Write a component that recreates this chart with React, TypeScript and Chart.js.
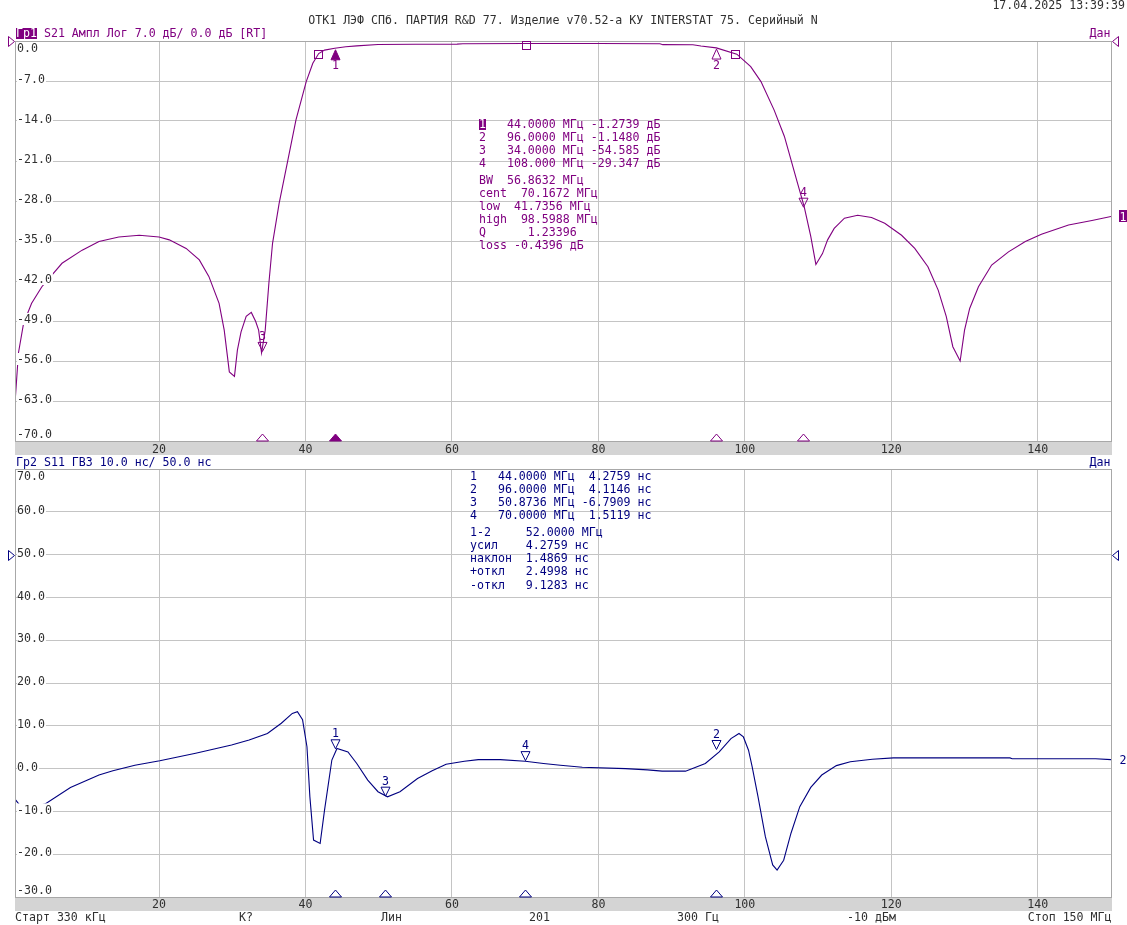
import React, { useEffect, useRef } from 'react';
import { Chart, registerables } from 'chart.js';

Chart.register(...registerables);

// ---------------- data ----------------
const freqStart = 0.33;
const freqStop = 150;
const xTicks = [20, 40, 60, 80, 100, 120, 140];

const s21Ticks = [0, -7, -14, -21, -28, -35, -42, -49, -56, -63, -70];
const gdTicks = [70, 60, 50, 40, 30, 20, 10, 0, -10, -20, -30];

// S21 magnitude (dB) vs frequency (MHz)
const s21Freq = [
  0.33, 0.8, 1.5, 2.6, 4.0, 6.75, 9.5, 11.8, 14.5, 17.3, 20, 21.4, 23.7, 25.5, 26.8, 28.2, 28.9, 29.6,
  30.3, 30.7, 31.2, 31.9, 32.6, 33.2, 33.6, 34.0, 34.5, 35.0, 35.5, 36.4, 37.6, 38.7, 40.1, 41.0, 41.8,
  42.6, 44.0, 45.5, 47.0, 49.9, 55.0, 60.7, 61.5, 70.0, 80.0, 88.4, 88.8, 92.9, 94.0, 96.1, 98.9, 100.8,
  102.2, 104.0, 105.4, 106.3, 107.2, 108.1, 109.0, 109.7, 110.6, 111.3, 112.2, 113.6, 115.4, 117.3, 119.1,
  121.4, 123.2, 125.0, 126.4, 127.5, 128.4, 129.4, 130.0, 130.7, 131.9, 133.7, 136.0, 138.3, 140.5, 144.2,
  147.4, 150,
];
const s21Db = [
  -63.4, -54.6, -49.4, -45.9, -43.0, -38.9, -36.6, -35.1, -34.3, -34.0, -34.3, -34.8, -36.3, -38.3, -41.2,
  -45.9, -50.6, -57.9, -58.7, -54.1, -50.9, -48.2, -47.5, -49.1, -50.6, -54.6, -50.6, -42.4, -35.4, -28.4,
  -20.8, -13.8, -7.1, -3.9, -2.2, -1.6, -1.27, -1.0, -0.85, -0.62, -0.58, -0.55, -0.47, -0.44, -0.45, -0.47,
  -0.64, -0.66, -0.88, -1.2, -2.3, -4.5, -7.1, -12.1, -16.7, -20.8, -24.9, -29.0, -34.2, -39.1, -37.2, -34.8,
  -32.8, -31.0, -30.5, -30.9, -31.9, -34.0, -36.3, -39.5, -43.6, -48.2, -53.5, -56.0, -50.6, -46.8, -43.0,
  -39.2, -36.9, -35.1, -33.8, -32.2, -31.4, -30.7,
];

// S11 group delay (ns) vs frequency (MHz)
const gdFreq = [
  0.33, 1.0, 2.5, 4.4, 7.9, 11.8, 13.7, 16.7, 20.1, 25.0, 29.9, 32.3, 34.8, 36.7, 38.2, 38.9, 39.6, 40.2,
  40.6, 41.1, 42.0, 42.6, 43.6, 44.3, 45.8, 47.0, 48.5, 49.9, 51.2, 52.9, 55.3, 57.3, 59.2, 61.7, 63.6,
  66.6, 70.0, 72.5, 74.8, 77.8, 83.7, 86.7, 88.7, 91.9, 94.6, 96.5, 98.1, 99.2, 99.8, 100.5, 101.0, 101.8,
  102.8, 103.8, 104.4, 105.3, 106.3, 107.5, 109.0, 110.5, 112.5, 114.4, 117.4, 120.3, 136.2, 136.5, 147.9,
  150,
];
const gdNs = [
  -7.1, -8.6, -9.0, -8.3, -4.4, -1.5, -0.5, 0.8, 1.85, 3.6, 5.5, 6.7, 8.2, 10.6, 12.9, 13.3, 11.4, 5.1,
  -6.6, -16.7, -17.5, -9.7, 2.0, 4.7, 3.9, 1.2, -2.7, -5.4, -6.6, -5.4, -2.3, -0.5, 1.0, 1.7, 2.1, 2.1,
  1.7, 1.2, 0.8, 0.3, 0.0, -0.3, -0.6, -0.6, 1.2, 3.9, 7.0, 8.2, 7.4, 4.3, 0.4, -6.6, -15.9, -22.5, -23.7,
  -21.4, -15.1, -8.9, -4.4, -1.5, 0.7, 1.6, 2.2, 2.5, 2.5, 2.3, 2.3, 2.1,
];

// markers
const s21MarkerLabels = ['1', '2', '3', '4'];
const s21MarkerFreq = [44, 96, 34, 108];
const s21MarkerDb = [-1.2739, -1.148, -54.585, -29.347];
const s21MarkerUp = [true, true, false, false];
const s21ActiveMarker = 0;

const bwBoxFreq = [41.7356, 70.1672, 98.5988];
const bwBoxDb = [-2.36, -0.7, -2.36];

const gdMarkerLabels = ['1', '2', '3', '4'];
const gdMarkerFreq = [44, 96, 50.8736, 70];
const gdMarkerNs = [4.2759, 4.1146, -6.7909, 1.5119];
const gdMarkerUp = [false, false, false, false];

// texts
const dateText = '17.04.2025 13:39:39';
const titleText = 'ОТК1 ЛЭФ СПб. ПАРТИЯ R&D 77. Изделие v70.52-а КУ INTERSTAT 75. Серийный N';
const trace1Tag = 'Гр1';
const trace1Header = ' S21 Ампл Лог 7.0 дБ/ 0.0 дБ [RT]';
const trace2Header = 'Гр2 S11 ГВЗ 10.0 нс/ 50.0 нс';
const dataLabel = 'Дан';
const s21TableA = [
  ['1', '   44.0000 МГц -1.2739 дБ'],
  ['2', '   96.0000 МГц -1.1480 дБ'],
  ['3', '   34.0000 МГц -54.585 дБ'],
  ['4', '   108.000 МГц -29.347 дБ'],
];
const s21TableB = [
  'BW  56.8632 МГц',
  'cent  70.1672 МГц',
  'low  41.7356 МГц',
  'high  98.5988 МГц',
  'Q      1.23396',
  'loss -0.4396 дБ',
];
const gdTableA = [
  '1   44.0000 МГц  4.2759 нс',
  '2   96.0000 МГц  4.1146 нс',
  '3   50.8736 МГц -6.7909 нс',
  '4   70.0000 МГц  1.5119 нс',
];
const gdTableB = [
  '1-2     52.0000 МГц',
  'усил    4.2759 нс',
  'наклон  1.4869 нс',
  '+откл   2.4998 нс',
  '-откл   9.1283 нс',
];
const footerTexts = ['Старт 330 кГц', 'К?', 'Лин', '201', '300 Гц', '-10 дБм', 'Стоп 150 МГц'];

// ---------------- style / layout ----------------
const W = 1127;
const H = 925;
const FONT_FAMILY = '"DejaVu Sans Mono", "Liberation Mono", monospace';
const FONT_PX = 11.6;
const PURPLE = '#800080';
const NAVY = '#000080';
const TEXT = '#303030';
const GRID = '#c4c4c4';
const FRAME = '#a8a8a8';
const BAR = '#d4d4d4';
const PLOT_LEFT = 15;
const PLOT_RIGHT = 1111;
const footerX = [15, 239, 381, 529, 677, 847];

type Panel = {
  xs: number[];
  ys: number[];
  color: string;
  top: number;
  bottom: number;
  yMin: number;
  yMax: number;
  yTicks: number[];
  refValue: number;
  mLabels: string[];
  mF: number[];
  mV: number[];
  mUp: boolean[];
  active: number;
  boxF: number[];
  boxV: number[];
  endLabel: string;
  endBoxed: boolean;
  barLabelOffset: number;
};

function tri(ctx: CanvasRenderingContext2D, cx: number, tipY: number, dir: number, w: number, h: number, color: string, fill: boolean) {
  ctx.beginPath();
  ctx.moveTo(cx, tipY);
  ctx.lineTo(cx - w / 2, tipY + dir * h);
  ctx.lineTo(cx + w / 2, tipY + dir * h);
  ctx.closePath();
  if (fill) {
    ctx.fillStyle = color;
    ctx.fill();
  }
  ctx.strokeStyle = color;
  ctx.stroke();
}

function panelPlugin(p: Panel) {
  return {
    id: 'vnaPanel',
    afterDatasetsDraw(chart: any) {
      const { ctx, chartArea: a } = chart;
      const xs = chart.scales.x;
      const ys = chart.scales.y;
      ctx.save();
      ctx.font = `${FONT_PX}px ${FONT_FAMILY}`;
      ctx.lineWidth = 1;
      ctx.textAlign = 'left';
      ctx.textBaseline = 'alphabetic';

      // frame
      ctx.strokeStyle = FRAME;
      ctx.strokeRect(a.left + 0.5, a.top + 0.5, a.right - a.left, a.bottom - a.top);

      // y tick labels inside plot, with white backdrop
      p.yTicks.forEach((v) => {
        const py = ys.getPixelForValue(v);
        const yc = Math.min(Math.max(py - 2, a.top + 6.5), a.bottom - 7);
        const txt = v.toFixed(1);
        const tw = ctx.measureText(txt).width;
        const y0 = Math.max(yc - 6, a.top + 1);
        const y1 = Math.min(yc + 6, a.bottom);
        ctx.fillStyle = '#ffffff';
        ctx.fillRect(a.left + 2, y0, tw + 1, y1 - y0);
        ctx.fillStyle = TEXT;
        ctx.fillText(txt, a.left + 2, yc + 4.2);
      });

      // grey frequency bar
      ctx.fillStyle = BAR;
      ctx.fillRect(a.left, a.bottom + 1, a.right - a.left + 1, 13);
      ctx.fillStyle = TEXT;
      ctx.textAlign = 'center';
      xTicks.forEach((v) => {
        ctx.fillText(String(v), xs.getPixelForValue(v), a.bottom + p.barLabelOffset + 4.2);
      });

      // bandwidth boxes
      ctx.strokeStyle = p.color;
      p.boxF.forEach((f, i) => {
        const bx = Math.round(xs.getPixelForValue(f));
        const by = Math.round(ys.getPixelForValue(p.boxV[i]));
        ctx.strokeRect(bx - 3.5, by - 3.5, 8, 8);
      });

      // markers on trace
      p.mF.forEach((f, i) => {
        const mx = Math.round(xs.getPixelForValue(f)) + 0.5;
        const my = ys.getPixelForValue(p.mV[i]);
        const isActive = i === p.active;
        ctx.fillStyle = p.color;
        if (p.mUp[i]) {
          tri(ctx, mx, my + 1.5, 1, 9, 10, p.color, isActive);
          ctx.fillStyle = p.color;
          ctx.fillText(p.mLabels[i], mx, my + 17 + 4.2);
        } else {
          tri(ctx, mx, my - 1.5, -1, 9, 9, p.color, isActive);
          ctx.fillStyle = p.color;
          ctx.fillText(p.mLabels[i], mx, my - 17 + 4.2);
        }
        // marker stimulus indicator at the bottom of the plot
        tri(ctx, mx, a.bottom - 7, 1, 12, 7, p.color, isActive);
      });

      // reference level triangles
      const ry = Math.round(ys.getPixelForValue(p.refValue)) + 0.5;
      ctx.strokeStyle = p.color;
      ctx.beginPath();
      ctx.moveTo(8.5, ry - 5);
      ctx.lineTo(14.5, ry);
      ctx.lineTo(8.5, ry + 5);
      ctx.closePath();
      ctx.stroke();
      ctx.beginPath();
      ctx.moveTo(a.right + 7.5, ry - 5);
      ctx.lineTo(a.right + 1.5, ry);
      ctx.lineTo(a.right + 7.5, ry + 5);
      ctx.closePath();
      ctx.stroke();

      // trace end indicator
      const ey = ys.getPixelForValue(p.ys[p.ys.length - 1]);
      if (p.endBoxed) {
        ctx.fillStyle = p.color;
        ctx.fillRect(a.right + 8, Math.round(ey) - 6, 8, 12);
        ctx.fillStyle = '#ffffff';
      } else {
        ctx.fillStyle = p.color;
      }
      ctx.fillText(p.endLabel, a.right + 12, ey + 4.2);
      ctx.restore();
    },
  };
}

function makeConfig(p: Panel): any {
  return {
    type: 'line',
    data: {
      datasets: [
        {
          data: p.xs.map((x, i) => ({ x, y: p.ys[i] })),
          borderColor: p.color,
          borderWidth: 1.1,
          pointRadius: 0,
          tension: 0,
          fill: false,
        },
      ],
    },
    options: {
      responsive: false,
      animation: false,
      devicePixelRatio: 1,
      events: [],
      layout: { padding: { left: PLOT_LEFT, top: p.top, right: W - PLOT_RIGHT, bottom: H - p.bottom } },
      plugins: { legend: { display: false }, tooltip: { enabled: false } },
      scales: {
        x: {
          type: 'linear',
          min: freqStart,
          max: freqStop,
          afterBuildTicks: (s: any) => {
            s.ticks = xTicks.map((v) => ({ value: v }));
          },
          afterFit: (s: any) => {
            s.height = 0;
          },
          ticks: { display: false },
          grid: { color: GRID, drawTicks: false, lineWidth: 1 },
          border: { display: false },
        },
        y: {
          type: 'linear',
          min: p.yMin,
          max: p.yMax,
          afterBuildTicks: (s: any) => {
            s.ticks = p.yTicks.map((v) => ({ value: v }));
          },
          afterFit: (s: any) => {
            s.width = 0;
          },
          ticks: { display: false },
          grid: { color: GRID, drawTicks: false, lineWidth: 1 },
          border: { display: false },
        },
      },
    },
    plugins: [panelPlugin(p)],
  };
}

const topPanel: Panel = {
  xs: s21Freq,
  ys: s21Db,
  color: PURPLE,
  top: 41,
  bottom: 441,
  yMin: -70,
  yMax: 0,
  yTicks: s21Ticks,
  refValue: 0,
  mLabels: s21MarkerLabels,
  mF: s21MarkerFreq,
  mV: s21MarkerDb,
  mUp: s21MarkerUp,
  active: s21ActiveMarker,
  boxF: bwBoxFreq,
  boxV: bwBoxDb,
  endLabel: '1',
  endBoxed: true,
  barLabelOffset: 8,
};

const bottomPanel: Panel = {
  xs: gdFreq,
  ys: gdNs,
  color: NAVY,
  top: 469,
  bottom: 897,
  yMin: -30,
  yMax: 70,
  yTicks: gdTicks,
  refValue: 50,
  mLabels: gdMarkerLabels,
  mF: gdMarkerFreq,
  mV: gdMarkerNs,
  mUp: gdMarkerUp,
  active: -1,
  boxF: [],
  boxV: [],
  endLabel: '2',
  endBoxed: false,
  barLabelOffset: 7,
};

function Txt(props: { x: number; yc: number; align?: 'left' | 'right' | 'center'; color?: string; children: any }) {
  const { x, yc, align = 'left', color = TEXT, children } = props;
  const style: any = {
    position: 'absolute',
    top: yc - 6.3,
    lineHeight: '13px',
    whiteSpace: 'pre',
    color,
  };
  if (align === 'left') style.left = x;
  else if (align === 'right') style.right = W - x;
  else {
    style.left = x;
    style.transform = 'translateX(-50%)';
  }
  return <div style={style}>{children}</div>;
}

const tagStyle = (bg: string): any => ({
  display: 'inline-block',
  lineHeight: '11px',
  height: 11,
  background: bg,
  color: '#ffffff',
});

export default function App() {
  const topRef = useRef<HTMLCanvasElement>(null);
  const botRef = useRef<HTMLCanvasElement>(null);

  useEffect(() => {
    const c1 = new Chart(topRef.current as HTMLCanvasElement, makeConfig(topPanel));
    const c2 = new Chart(botRef.current as HTMLCanvasElement, makeConfig(bottomPanel));
    return () => {
      c1.destroy();
      c2.destroy();
    };
  }, []);

  return (
    <div
      style={{
        position: 'absolute',
        left: 0,
        top: 0,
        width: W,
        height: H,
        background: '#ffffff',
        overflow: 'hidden',
        fontFamily: FONT_FAMILY,
        fontSize: `${FONT_PX}px`,
      }}
    >
      <canvas ref={topRef} width={W} height={H} style={{ position: 'absolute', left: 0, top: 0 }} />
      <canvas ref={botRef} width={W} height={H} style={{ position: 'absolute', left: 0, top: 0 }} />

      <Txt x={1125} yc={5.5} align="right">{dateText}</Txt>
      <Txt x={563} yc={20} align="center">{titleText}</Txt>

      <Txt x={16} yc={33} color={PURPLE}>
        <span style={tagStyle(PURPLE)}>{trace1Tag}</span>
        {trace1Header}
      </Txt>
      <Txt x={1110.5} yc={33.5} align="right" color={PURPLE}>{dataLabel}</Txt>

      {s21TableA.map((r, i) => (
        <Txt key={'a' + i} x={479} yc={124 + i * 13} color={PURPLE}>
          {i === s21ActiveMarker ? <span style={tagStyle(PURPLE)}>{r[0]}</span> : r[0]}
          {r[1]}
        </Txt>
      ))}
      {s21TableB.map((r, i) => (
        <Txt key={'b' + i} x={479} yc={180.5 + i * 12.9} color={PURPLE}>{r}</Txt>
      ))}

      <Txt x={16} yc={462} color={NAVY}>{trace2Header}</Txt>
      <Txt x={1110.5} yc={462} align="right" color={NAVY}>{dataLabel}</Txt>

      {gdTableA.map((r, i) => (
        <Txt key={'c' + i} x={470} yc={476 + i * 13.1} color={NAVY}>{r}</Txt>
      ))}
      {gdTableB.map((r, i) => (
        <Txt key={'d' + i} x={470} yc={531.8 + i * 13.3} color={NAVY}>{r}</Txt>
      ))}

      {footerTexts.slice(0, 6).map((t, i) => (
        <Txt key={'f' + i} x={footerX[i]} yc={917.5}>{t}</Txt>
      ))}
      <Txt x={1111.5} yc={917.5} align="right">{footerTexts[6]}</Txt>
    </div>
  );
}
